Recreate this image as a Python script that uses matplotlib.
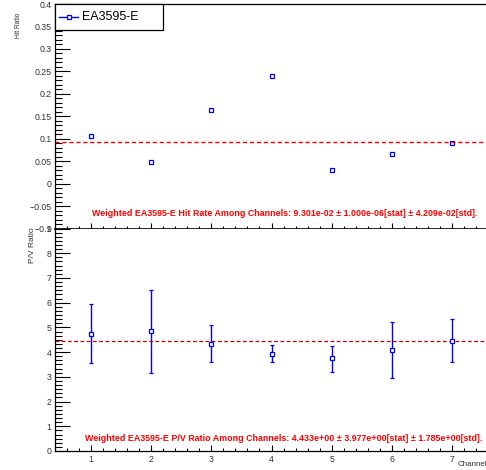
import matplotlib
matplotlib.use("Agg")
import matplotlib.pyplot as plt
from matplotlib.patches import Rectangle
from matplotlib.ticker import MultipleLocator, AutoMinorLocator

plt.rcParams["font.family"] = ["Liberation Sans", "DejaVu Sans"]

channels = [1, 2, 3, 4, 5, 6, 7]
hit_ratio = [0.107, 0.047, 0.163, 0.240, 0.030, 0.066, 0.0896]
hit_mean = 0.09301
pv_ratio = [4.73, 4.84, 4.34, 3.94, 3.75, 4.07, 4.45]
pv_upper = [5.94, 6.52, 5.08, 4.30, 4.26, 5.20, 5.35]
pv_lower = [3.54, 3.16, 3.62, 3.59, 3.21, 2.94, 3.58]
pv_mean = 4.433
label = "EA3595-E"
hit_text = "Weighted EA3595-E Hit Rate Among Channels: 9.301e-02 \u00b1 1.000e-06[stat] \u00b1 4.209e-02[std]."
pv_text = "Weighted EA3595-E P/V Ratio Among Channels: 4.433e+00 \u00b1 3.977e+00[stat] \u00b1 1.785e+00[std]."

W, H = 486, 470
fig = plt.figure(figsize=(W / 100, H / 100), dpi=100)


def px(x0, y0, x1, y1):
    return [x0 / W, 1 - y1 / H, (x1 - x0) / W, (y1 - y0) / H]


blue = "#0000ff"
red = "#ff0000"
grey = "#333333"
tick_fs = 6.3

ax1 = fig.add_axes(px(55, 4, 488, 228.5))
ax2 = fig.add_axes(px(55, 228.5, 488, 451))

for ax in (ax1, ax2):
    ax.set_xlim(0.4, 7.6)
    ax.spines["right"].set_visible(False)
    for s in ax.spines.values():
        s.set_linewidth(0.9)
    ax.xaxis.set_major_locator(MultipleLocator(1))
    ax.xaxis.set_minor_locator(MultipleLocator(0.2))
    ax.tick_params(axis="y", which="major", direction="in", length=10.8, width=0.8,
                   labelsize=tick_fs, labelcolor=grey, pad=2.5)
    ax.tick_params(axis="y", which="minor", direction="in", length=5, width=0.8)
    ax.tick_params(axis="y", right=False)

# top pad
ax1.set_ylim(-0.1, 0.4)
ax1.yaxis.set_major_locator(MultipleLocator(0.05))
ax1.yaxis.set_minor_locator(MultipleLocator(0.01))
ax1.spines["bottom"].set_visible(False)
ax1.tick_params(axis="x", which="major", direction="inout", length=9, width=0.8,
                labelbottom=False)
ax1.tick_params(axis="x", which="minor", direction="inout", length=5, width=0.8)
ax1.axhline(-0.1, color="black", lw=1.2, clip_on=False)
ax1.yaxis.set_major_formatter(plt.FuncFormatter(lambda v, p: ("%g" % round(v, 3)).replace("-", "\u2212")))
ax1.plot(channels, hit_ratio, ls="none", marker="s", ms=3.5, mfc="white", mec=blue,
         mew=0.9, color=blue)
ax1.axhline(hit_mean, color=red, ls=(0, (3, 2)), lw=1)
ax1.text(0.531, 0.065, hit_text, transform=ax1.transAxes, ha="center", va="center",
         color=red, fontsize=6.4, fontweight="bold")

# legend box drawn like the ROOT TLegend
lx0, lx1 = 0, (163 - 55) / 433
ly0, ly1 = 1 - (30 - 4) / 224.5, 1
ax1.add_patch(Rectangle((lx0, ly0), lx1 - lx0, ly1 - ly0, transform=ax1.transAxes,
                        fill=True, facecolor="white", edgecolor="black", lw=0.9,
                        clip_on=False, zorder=5))
ly = 1 - (17 - 4) / 224.5
ax1.plot([(59 - 55) / 433, (78 - 55) / 433], [ly, ly], transform=ax1.transAxes,
         color=blue, lw=1, zorder=6)
ax1.plot([(68.5 - 55) / 433], [ly], transform=ax1.transAxes, ls="none", marker="s",
         ms=3.5, mfc="white", mec=blue, mew=0.9, zorder=7)
ax1.text((82 - 55) / 433, ly, label, transform=ax1.transAxes, ha="left", va="center",
         fontsize=9, color="black", zorder=7)

fig.text(18.5 / W, 1 - 13 / H, "Hit Ratio", rotation=90, ha="center", va="top",
         fontsize=4.8, color=grey)

# bottom pad
ax2.set_ylim(0, 9)
ax2.yaxis.set_major_locator(MultipleLocator(1))
ax2.yaxis.set_minor_locator(AutoMinorLocator(6))
ax2.spines["top"].set_visible(False)
ax2.tick_params(axis="x", which="major", direction="in", length=4.5, width=0.8,
                labelsize=tick_fs, labelcolor=grey, pad=3)
ax2.tick_params(axis="x", which="minor", direction="in", length=2.3, width=0.8)
yerr = [[v - lo for v, lo in zip(pv_ratio, pv_lower)],
        [hi - v for v, hi in zip(pv_ratio, pv_upper)]]
ax2.errorbar(channels, pv_ratio, yerr=yerr, fmt="s", ms=3.5, mfc="white", mec=blue,
             mew=0.9, ecolor=blue, elinewidth=1, capsize=1.5, capthick=1)
ax2.axhline(pv_mean, color="#cc0000", ls=(0, (3, 2)), lw=0.9)
ax2.text(0.527, 0.055, pv_text, transform=ax2.transAxes, ha="center", va="center",
         color=red, fontsize=6.4, fontweight="bold")
fig.text(32 / W, 1 - 227 / H, "P/V Ratio", rotation=90, ha="center", va="top",
         fontsize=6, color=grey)
fig.text(458 / W, 1 - 465 / H, "Channel", fontsize=5.8, color=grey, ha="left", va="center")

fig.savefig("out.png", dpi=100)
